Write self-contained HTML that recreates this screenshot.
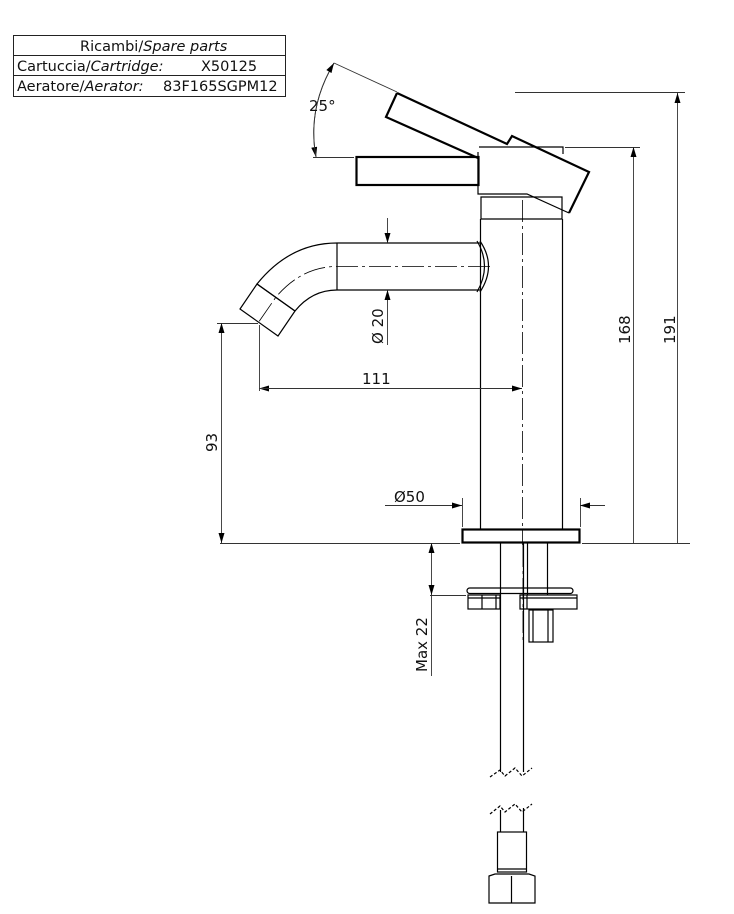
<!DOCTYPE html>
<html><head><meta charset="utf-8"><style>
html,body{margin:0;padding:0;background:#fff;}
svg{display:block;}
text{font-family:"DejaVu Sans","Liberation Sans",sans-serif;fill:#111;}
</style></head><body>
<svg width="734" height="914" viewBox="0 0 734 914" xmlns="http://www.w3.org/2000/svg">
<defs>
<marker id="a" markerWidth="10" markerHeight="6" refX="10" refY="3" orient="auto" markerUnits="userSpaceOnUse"><path d="M0,0 L10,3 L0,6 z" fill="#000"/></marker>
</defs>
<!-- table -->
<g stroke="#222" stroke-width="1" fill="none">
<rect x="13.5" y="35.5" width="272" height="61"/>
<line x1="13" y1="55.5" x2="285" y2="55.5"/>
<line x1="13" y1="75.5" x2="285" y2="75.5"/>
</g>
<g font-size="14.5">
<text x="80" y="51">Ricambi/<tspan font-style="italic">Spare parts</tspan></text>
<text x="17" y="71">Cartuccia/<tspan font-style="italic">Cartridge:</tspan></text>
<text x="201" y="71">X50125</text>
<text x="17" y="91">Aeratore/<tspan font-style="italic">Aerator:</tspan></text>
<text x="163" y="91">83F165SGPM12</text>
</g>

<!-- thick part outlines -->
<g stroke="#000" stroke-width="2.2" fill="none" stroke-linejoin="miter">
<path d="M397,93 L507,144 L512,136 L589,172 L569,213"/>
<path d="M397,93 L386,117 L478,158"/>
<rect x="356.5" y="157" width="122" height="28"/>
<rect x="462.5" y="529.5" width="117" height="13"/>
</g>
<g stroke="#000" stroke-width="1.2" fill="none">
<path d="M569,213 L527,194 L478,194 L478,152"/>
<path d="M479,147 L563,147 L563,154"/>
<path d="M481,197 L481,219 L562,219 L562,197 Z"/>
<line x1="480.5" y1="219" x2="480.5" y2="529"/>
<line x1="562.5" y1="219" x2="562.5" y2="529"/>
<!-- spout -->
<path d="M480,243 L337,243 Q290,243 257,284"/>
<path d="M480,290 L337,290 Q312,290 295,311"/>
<line x1="337" y1="243" x2="337" y2="290"/>
<path d="M480,241 Q497,266 480,292"/>
<path d="M477,241 Q492,266 477,292"/>
<path d="M257,284 L240,309 L278,336 L295,311 Z"/>
<line x1="257" y1="284" x2="295" y2="311"/>
<!-- below deck -->
<line x1="500.5" y1="543" x2="500.5" y2="772"/>
<line x1="523.5" y1="543" x2="523.5" y2="772"/>
<line x1="527.5" y1="543" x2="527.5" y2="595"/>
<line x1="547.5" y1="543" x2="547.5" y2="595"/>
<rect x="467" y="588" width="106" height="5.5" rx="2.7"/>
<rect x="468" y="595" width="32" height="14"/>
<line x1="482" y1="595" x2="482" y2="609"/><line x1="496" y1="595" x2="496" y2="609"/>
<line x1="468" y1="598" x2="500" y2="598"/>
<rect x="520" y="595" width="57" height="14"/>
<line x1="527" y1="595" x2="527" y2="609"/>
<line x1="520" y1="598" x2="577" y2="598"/>
<rect x="529" y="610" width="24" height="32"/>
<line x1="533" y1="610" x2="533" y2="642"/><line x1="548" y1="610" x2="548" y2="642"/>
<!-- break -->
<path d="M490,777 L500,770 L505,776 L515,768 L522,776 L532,768" stroke-dasharray="3,2"/>
<path d="M490,814 L500,806 L505,812 L515,804 L522,812 L532,804" stroke-dasharray="3,2"/>
<line x1="500.5" y1="810" x2="500.5" y2="832"/>
<line x1="523.5" y1="808" x2="523.5" y2="832"/>
<rect x="497.5" y="832" width="29" height="40"/>
<line x1="497" y1="869" x2="527" y2="869"/>
<path d="M489,876 L495,874 L529,874 L535,876 L535,903 L489,903 Z"/>
<line x1="511.5" y1="876" x2="511.5" y2="903"/>
</g>

<!-- centerlines -->
<g stroke="#000" stroke-width="0.8" fill="none" stroke-dasharray="22,4,3,4">
<line x1="522.5" y1="200" x2="522.5" y2="545"/>
<path d="M490,266.5 L337,266.5 Q302,266.5 276,297 L258,323"/>
<line x1="523" y1="545" x2="523" y2="640"/>
</g>

<!-- dimension lines -->
<g stroke="#333" stroke-width="0.9" fill="none">
<line x1="334" y1="63" x2="397" y2="92"/>
<line x1="313" y1="157.5" x2="354" y2="157.5"/>
<path d="M334,63 Q307,108 316,157" marker-end="url(#a)"/>
<path d="M316,157 Q307,108 334,63" marker-end="url(#a)"/>
<line x1="515" y1="92.5" x2="685" y2="92.5"/>
<line x1="565" y1="147.5" x2="640" y2="147.5"/>
<line x1="677.5" y1="543" x2="677.5" y2="93" marker-end="url(#a)"/>
<line x1="633.5" y1="543" x2="633.5" y2="147" marker-end="url(#a)"/>
<line x1="387.5" y1="218" x2="387.5" y2="243" marker-end="url(#a)"/>
<line x1="387.5" y1="345" x2="387.5" y2="290" marker-end="url(#a)"/>
<line x1="259.5" y1="325" x2="259.5" y2="391"/>
<line x1="522" y1="388.5" x2="259" y2="388.5" marker-end="url(#a)"/>
<line x1="259" y1="388.5" x2="522" y2="388.5" marker-end="url(#a)"/>
<line x1="217" y1="323.5" x2="258" y2="323.5"/>
<line x1="221.5" y1="433" x2="221.5" y2="323" marker-end="url(#a)"/>
<line x1="221.5" y1="433" x2="221.5" y2="543" marker-end="url(#a)"/>
<line x1="220" y1="543.5" x2="460" y2="543.5"/>
<line x1="582" y1="543.5" x2="690" y2="543.5"/>
<line x1="462.5" y1="498" x2="462.5" y2="527"/>
<line x1="580.5" y1="498" x2="580.5" y2="527"/>
<line x1="385" y1="505.5" x2="462" y2="505.5" marker-end="url(#a)"/>
<line x1="605" y1="505.5" x2="580" y2="505.5" marker-end="url(#a)"/>
<line x1="431.5" y1="570" x2="431.5" y2="543" marker-end="url(#a)"/>
<line x1="431.5" y1="570" x2="431.5" y2="595" marker-end="url(#a)"/>
<line x1="431.5" y1="595" x2="431.5" y2="676"/>
<line x1="430" y1="595.5" x2="466" y2="595.5"/>
</g>

<g font-size="15">
<text x="309" y="111">25°</text>
<text x="362" y="384">111</text>
<text x="394" y="502">Ø50</text>
<text transform="translate(383,344) rotate(-90)">Ø 20</text>
<text transform="translate(217,452) rotate(-90)">93</text>
<text transform="translate(630,344) rotate(-90)">168</text>
<text transform="translate(675,344) rotate(-90)">191</text>
<text transform="translate(427,672) rotate(-90)">Max 22</text>
</g>
</svg>
</body></html>
